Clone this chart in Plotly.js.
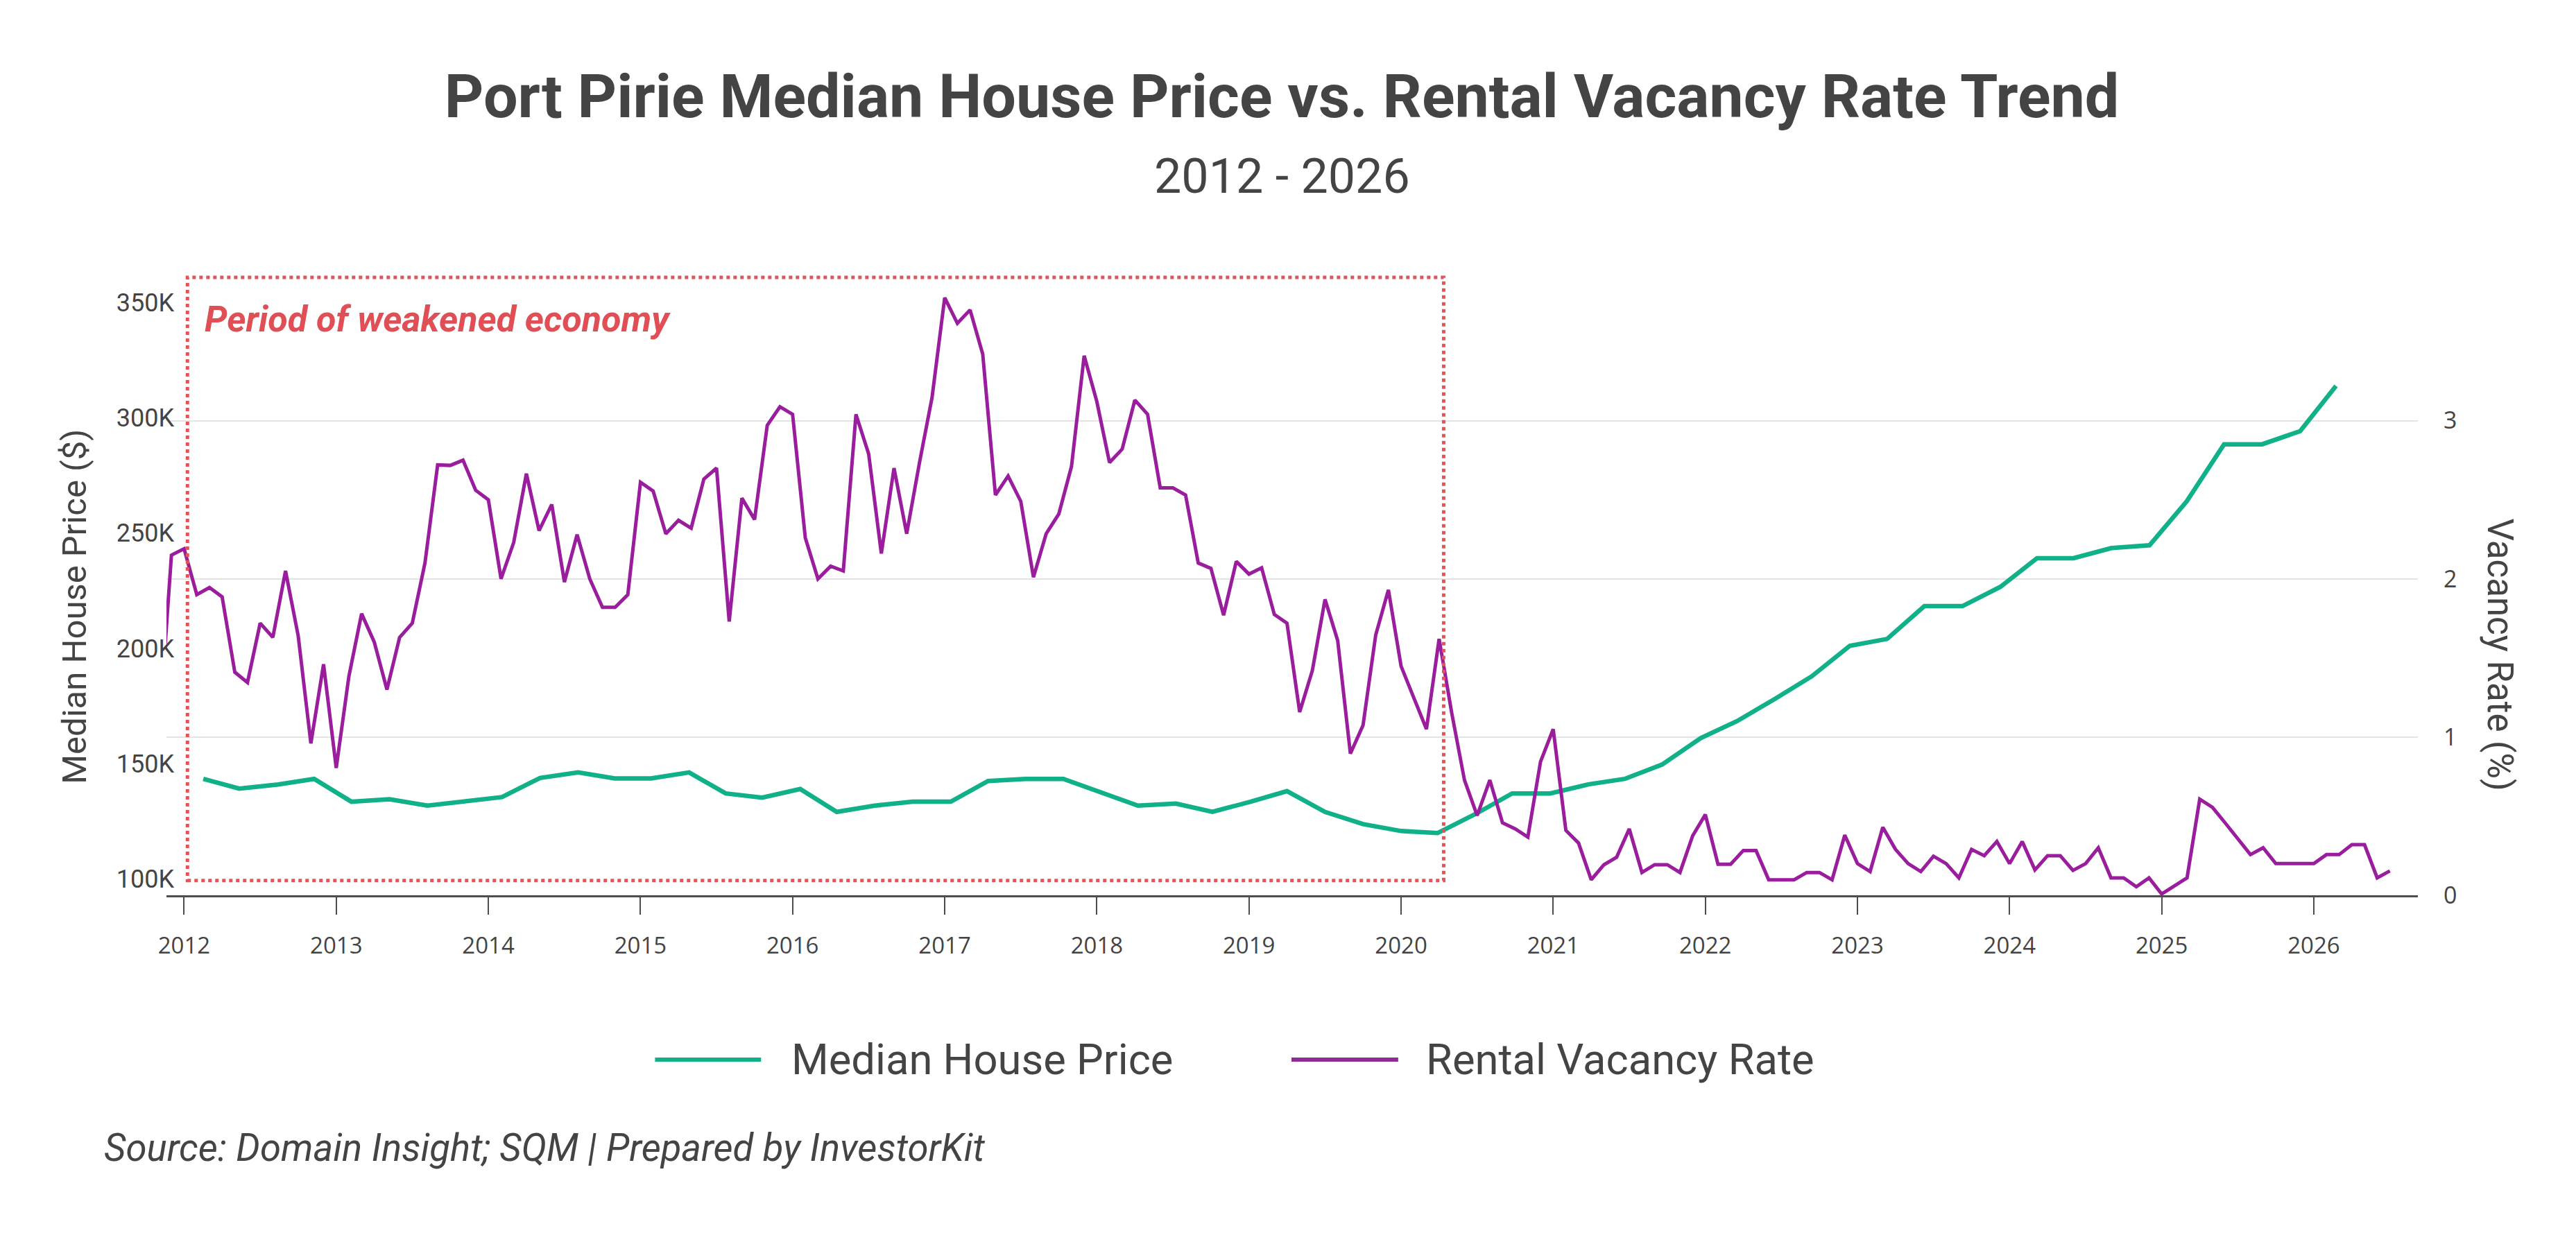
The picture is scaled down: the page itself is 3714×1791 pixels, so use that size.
<!DOCTYPE html>
<html>
<head>
<meta charset="utf-8">
<script src="https://cdn.plot.ly/plotly-3.0.1.min.js"></script>
<style>
html, body { margin: 0; padding: 0; background: #fff; }
#chart { width: 3714px; height: 1791px; }
</style>
</head>
<body>
<div id="chart"></div>
<script>
// median house price, roughly quarterly (decimal year, $K)
var priceX = [
  2012.126, 2012.362, 2012.618, 2012.855, 2013.10, 2013.35, 2013.60, 2013.845,
  2014.09, 2014.34, 2014.59, 2014.83, 2015.07, 2015.32, 2015.56, 2015.80,
  2016.05, 2016.29, 2016.54, 2016.79, 2017.04, 2017.285, 2017.53, 2017.78,
  2018.03, 2018.27, 2018.52, 2018.76, 2019.01, 2019.25, 2019.50, 2019.75,
  2020.00, 2020.24, 2020.49, 2020.73, 2020.98, 2021.23, 2021.47, 2021.715,
  2021.97, 2022.21, 2022.46, 2022.70, 2022.95, 2023.195, 2023.44, 2023.69,
  2023.94, 2024.18, 2024.42, 2024.67, 2024.92, 2025.165, 2025.41, 2025.66,
  2025.91, 2026.146
];
var priceK = [
  143.4, 139.2, 141.0, 143.4, 133.5, 134.6, 131.8, 133.5,
  135.5, 143.8, 146.2, 143.6, 143.6, 146.2, 137.1, 135.3,
  139.0, 129.1, 131.8, 133.5, 133.5, 142.5, 143.4, 143.4,
  137.6, 131.8, 132.7, 129.1, 133.5, 138.1, 129.1, 123.8,
  120.8, 119.9, 128.2, 137.1, 137.1, 141.0, 143.4, 149.6,
  161.1, 168.5, 178.2, 187.9, 201.1, 204.1, 218.3, 218.3,
  226.7, 239.1, 239.1, 243.5, 244.7, 263.8, 288.5, 288.5,
  294.2, 313.8
];

// rental vacancy rate, monthly from Nov 2011 to Jul 2026 (%)
var vacancyStartYear = 2011;
var vacancyStartMonth = 11;
var vacancyRate = [
  1.0, 2.15,
  2.19, 1.90, 1.945, 1.886, 1.41, 1.345, 1.72, 1.63, 2.05, 1.64, 0.96, 1.46,
  0.805, 1.384, 1.78, 1.60, 1.30, 1.63, 1.72, 2.10, 2.72, 2.717, 2.75, 2.56,
  2.50, 2.00, 2.23, 2.665, 2.305, 2.47, 1.98, 2.28, 2.00, 1.82, 1.82, 1.90,
  2.61, 2.555, 2.285, 2.37, 2.32, 2.63, 2.70, 1.73, 2.51, 2.375, 2.97, 3.087,
  3.04, 2.26, 2.00, 2.08, 2.05, 3.04, 2.79, 2.16, 2.70, 2.285, 2.73, 3.146,
  3.777, 3.615, 3.70, 3.42, 2.53, 2.65, 2.49, 2.01, 2.285, 2.41, 2.71, 3.41,
  3.12, 2.735, 2.82, 3.13, 3.04, 2.575, 2.575, 2.53, 2.10, 2.066, 1.77, 2.11,
  2.03, 2.07, 1.775, 1.72, 1.158, 1.42, 1.87, 1.61, 0.895, 1.075, 1.646, 1.93,
  1.448, 1.243, 1.05, 1.62, 1.15, 0.728, 0.504, 0.728, 0.458, 0.42, 0.368, 0.844,
  1.05, 0.41, 0.33, 0.098, 0.193, 0.24, 0.42, 0.144, 0.193, 0.193, 0.144, 0.376,
  0.51, 0.196, 0.196, 0.283, 0.283, 0.098, 0.098, 0.098, 0.144, 0.144, 0.098, 0.38,
  0.20, 0.15, 0.43, 0.29, 0.20, 0.15, 0.247, 0.20, 0.11, 0.29, 0.25, 0.34,
  0.20, 0.34, 0.16, 0.25, 0.25, 0.157, 0.20, 0.30, 0.11, 0.11, 0.054, 0.11,
  0.008, 0.06, 0.11, 0.607, 0.556, 0.458, 0.355, 0.257, 0.30, 0.20, 0.20, 0.20,
  0.20, 0.257, 0.257, 0.32, 0.32, 0.11, 0.154
];
var vacancyX = vacancyRate.map(function (v, i) {
  return vacancyStartYear + (vacancyStartMonth - 1 + i) / 12;
});

var yearTicks = [2012, 2013, 2014, 2015, 2016, 2017, 2018, 2019, 2020, 2021, 2022, 2023, 2024, 2025, 2026];
var priceTicks = [100, 150, 200, 250, 300, 350];
var priceTickText = ['100K', '150K', '200K', '250K', '300K', '350K'];
var rateTicks = [0, 1, 2, 3];

var green = '#10b088';
var purple = '#9a1d9e';
var red = '#e0555a';

var priceData = {
  x: priceX,
  y: priceK,
  type: 'scatter',
  mode: 'lines',
  name: 'Median House Price',
  line: { color: green, width: 6.5 },
  yaxis: 'y'
};

var vacancyData = {
  x: vacancyX,
  y: vacancyRate,
  type: 'scatter',
  mode: 'lines',
  name: 'Rental Vacancy Rate',
  line: { color: purple, width: 5 },
  yaxis: 'y2'
};

var layout = {
  width: 3714,
  height: 1791,
  showlegend: false,
  paper_bgcolor: '#fff',
  plot_bgcolor: '#fff',
  font: { family: 'Roboto', color: '#444' },
  margin: { l: 239.5, r: 227.5, t: 380, b: 500.3, pad: 0, autoexpand: false },
  title: {
    text: 'Port Pirie Median House Price vs. Rental Vacancy Rate Trend',
    font: { family: 'Roboto', size: 88, weight: 700, color: '#444' },
    xref: 'container', x: 0.4976, xanchor: 'center',
    yref: 'container', y: 0.923, yanchor: 'middle'
  },
  xaxis: {
    type: 'linear',
    range: [2011.884, 2026.684],
    tickvals: yearTicks,
    ticktext: yearTicks.map(String),
    ticks: 'outside',
    ticklen: 25,
    tickwidth: 2,
    tickcolor: '#4d4d4d',
    ticklabelstandoff: 16,
    tickfont: { family: 'Open Sans', size: 33, color: '#444' },
    showline: true,
    linecolor: '#4d4d4d',
    linewidth: 3,
    showgrid: false,
    zeroline: false
  },
  yaxis: {
    range: [92.93, 366.9],
    tickvals: priceTicks,
    ticktext: priceTickText,
    ticks: '',
    ticklabelstandoff: -12,
    tickfont: { family: 'Roboto', size: 36, color: '#444' },
    showgrid: false,
    showline: false,
    zeroline: false
  },
  yaxis2: {
    overlaying: 'y',
    side: 'right',
    range: [0, 3.993],
    tickvals: rateTicks,
    ticks: '',
    ticklabelstandoff: 36,
    tickfont: { family: 'Open Sans', size: 34, color: '#444' },
    showgrid: true,
    gridcolor: '#e4e4e4',
    gridwidth: 2,
    showline: false,
    zeroline: false
  },
  shapes: [
    {
      type: 'rect', xref: 'x', yref: 'y',
      x0: 2012.022, x1: 2020.28, y0: 99.35, y1: 360.9,
      line: { color: red, width: 5, dash: '5px,5px' },
      fillcolor: 'rgba(0,0,0,0)', layer: 'above'
    },
    {
      type: 'line', xref: 'paper', yref: 'paper',
      x0: 0.2170, x1: 0.2641, y0: -0.2602, y1: -0.2602,
      line: { color: green, width: 6 }
    },
    {
      type: 'line', xref: 'paper', yref: 'paper',
      x0: 0.4997, x1: 0.5471, y0: -0.2602, y1: -0.2602,
      line: { color: '#8f2b93', width: 6 }
    }
  ],
  annotations: [
    {
      text: '2012 - 2026', xref: 'paper', yref: 'paper',
      x: 0.4954, y: 1.1382, xanchor: 'center', yanchor: 'middle',
      showarrow: false, font: { family: 'Roboto', size: 70, color: '#444' }
    },
    {
      text: 'Period of weakened economy', xref: 'x', yref: 'y',
      x: 2012.125, y: 342.8, xanchor: 'left', yanchor: 'middle',
      showarrow: false,
      font: { family: 'Roboto', size: 52, weight: 700, style: 'italic', color: '#df4f55' }
    },
    {
      text: 'Median House Price ($)', xref: 'paper', yref: 'paper',
      x: -0.0408, y: 0.4565, xanchor: 'center', yanchor: 'middle', textangle: -90,
      showarrow: false, font: { family: 'Roboto', size: 49, color: '#444' }
    },
    {
      text: 'Vacancy Rate (%)', xref: 'paper', yref: 'paper',
      x: 1.0365, y: 0.3810, xanchor: 'center', yanchor: 'middle', textangle: 90,
      showarrow: false, font: { family: 'Roboto', size: 51, color: '#444' }
    },
    {
      text: 'Median House Price', xref: 'paper', yref: 'paper',
      x: 0.2770, y: -0.2602, xanchor: 'left', yanchor: 'middle',
      showarrow: false, font: { family: 'Roboto', size: 61.5, color: '#444' }
    },
    {
      text: 'Rental Vacancy Rate', xref: 'paper', yref: 'paper',
      x: 0.5588, y: -0.2602, xanchor: 'left', yanchor: 'middle',
      showarrow: false, font: { family: 'Roboto', size: 61.5, color: '#444' }
    },
    {
      text: 'Source: Domain Insight; SQM | Prepared by InvestorKit', xref: 'paper', yref: 'paper',
      x: -0.0282, y: -0.4000, xanchor: 'left', yanchor: 'middle',
      showarrow: false, font: { family: 'Roboto', size: 54.5, style: 'italic', color: '#444' }
    }
  ]
};

var data = [priceData, vacancyData];

Plotly.newPlot('chart', data, layout, { displayModeBar: false, staticPlot: true });
</script>
</body>
</html>
